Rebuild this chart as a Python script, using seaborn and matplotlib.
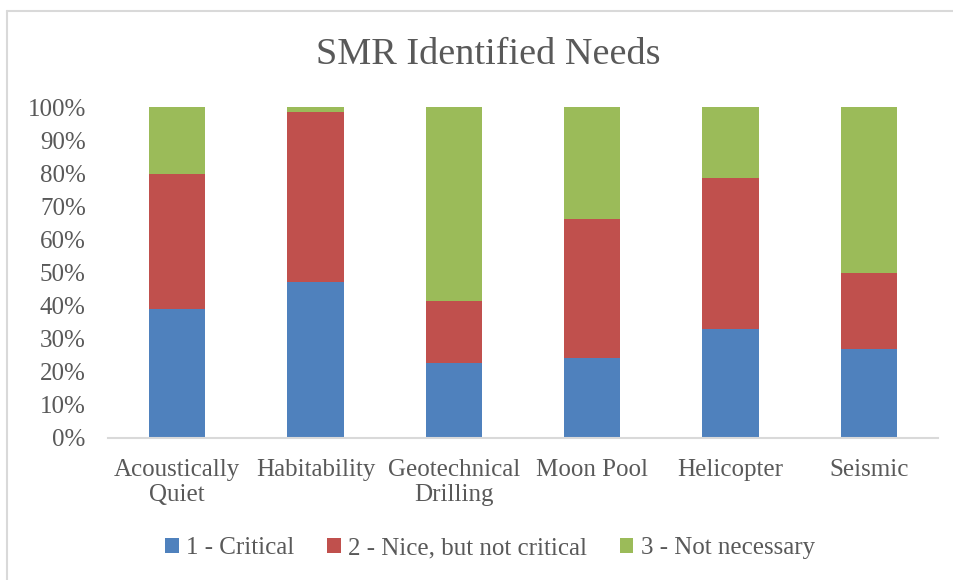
import pandas as pd
import matplotlib.pyplot as plt
import seaborn as sns
from matplotlib.lines import Line2D
from matplotlib.patches import Patch

# Data (percent of responses)
needs = ['Acoustically\nQuiet', 'Habitability', 'Geotechnical\nDrilling',
         'Moon Pool', 'Helicopter', 'Seismic']
critical = [38.9, 47.0, 22.7, 24.3, 33.0, 27.0]
nice = [40.8, 51.5, 18.8, 41.8, 45.5, 22.8]
not_needed = [20.3, 1.5, 58.5, 33.9, 21.5, 50.2]
series = ['1 - Critical', '2 - Nice, but not critical', '3 - Not necessary']
colors = ['#4F81BD', '#C0504D', '#9BBB59']
yticks = [0, 10, 20, 30, 40, 50, 60, 70, 80, 90, 100]

df = pd.DataFrame({'Need': needs, 'Critical': critical,
                   'Nice': nice, 'Not': not_needed})
# cumulative tops for stacking (draw tallest first)
df['top1'] = df['Critical']
df['top2'] = df['Critical'] + df['Nice']
df['top3'] = df['top2'] + df['Not']

sns.set_style('white')
plt.rcParams['font.family'] = ['Liberation Serif', 'DejaVu Serif']
text_color = '#595959'

fig = plt.figure(figsize=(9.54, 5.8), dpi=100)
ax = fig.add_axes([108 / 954, 1 - 438 / 580, 830 / 954, 331 / 580])

for col, c in zip(['top3', 'top2', 'top1'], colors[::-1]):
    sns.barplot(data=df, x='Need', y=col, color=c, width=0.405,
                saturation=1, ax=ax, linewidth=0)

ax.set_ylim(0, 100)
ax.set_yticks(yticks)
ax.set_yticklabels([f'{v}%' for v in yticks])
ax.set_xlabel('')
ax.set_ylabel('')
ax.tick_params(axis='both', length=0, labelsize=18, colors=text_color)
ax.tick_params(axis='x', pad=15)
ax.tick_params(axis='y', pad=16)
for s in ['top', 'right', 'left']:
    ax.spines[s].set_visible(False)
ax.spines['bottom'].set_color('#D9D9D9')
ax.spines['bottom'].set_linewidth(1.5)

fig.text(488 / 954, 1 - 55 / 580, 'SMR Identified Needs', ha='center',
         va='center', fontsize=27.5, color=text_color)

handles = [Patch(facecolor=c, edgecolor='none') for c in colors]
fig.legend(handles, series, loc='center', bbox_to_anchor=(490 / 954, 1 - 548 / 580),
           ncol=3, frameon=False, fontsize=18, handlelength=0.55, handleheight=0.55,
           handletextpad=0.3, columnspacing=1.3, labelcolor=text_color)

# outer chart border
fig.add_artist(Line2D([7 / 954, 7 / 954], [0, 1 - 11 / 580],
                      transform=fig.transFigure, color='#D9D9D9', lw=1.5))
fig.add_artist(Line2D([7 / 954, 1], [1 - 11 / 580, 1 - 11 / 580],
                      transform=fig.transFigure, color='#D9D9D9', lw=1.5))

fig.savefig('out.png', dpi=100)
